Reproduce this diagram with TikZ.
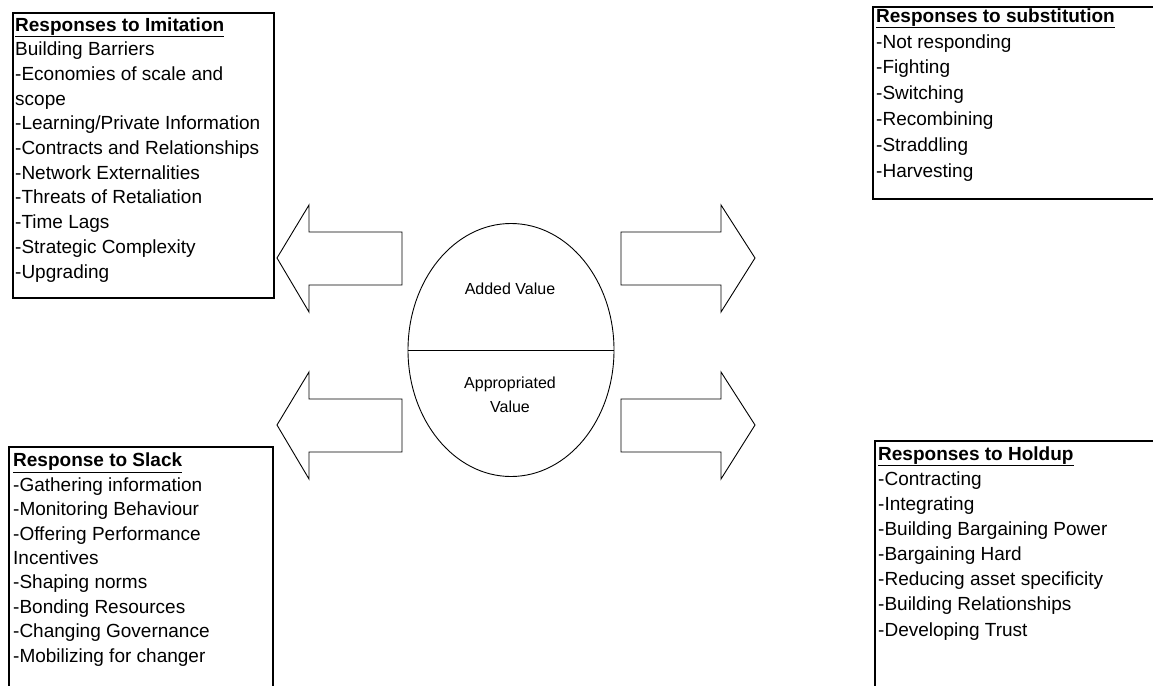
\documentclass[tikz,border=0pt]{standalone}
\usepackage{fontspec}
\setmainfont{Liberation Sans}
\usetikzlibrary{shapes.geometric}
\tikzstyle{listbox}=[draw=black,line width=1.1pt]
\tikzset{listtext/.style={anchor=base west,align=left,inner sep=0pt,
                          font=\fontsize{19}{#1}\selectfont}}
\tikzstyle{blockarrow}=[draw=black,line width=0.9pt,line join=miter]
\tikzstyle{valueshape}=[ellipse,draw=black,line width=0.9pt,inner sep=0pt,
                        minimum width=206pt,minimum height=253pt]
\tikzstyle{valuetext}=[align=center,inner sep=0pt,
                       font=\fontsize{16}{24}\selectfont]
\newcommand{\boxtitle}[1]{\underline{\textbf{#1}}}

\begin{document}
\begin{tikzpicture}[x=1pt,y=-1pt]
	\useasboundingbox (0,0) rectangle (1153,685);
	\clip (0,0) rectangle (1153,685);

	% the four lists (node sits on its last line)
	\draw[listbox] (13,13) rectangle (274,298);
	\draw[listbox] (873,7) rectangle (1170,199);
	\draw[listbox] (9,447) rectangle (273,700);
	\draw[listbox] (875,441) rectangle (1170,700);

	\node[listtext=24.7] (imitation) at (15,278) {\boxtitle{Responses to Imitation}\\
		Building Barriers\\-Economies of scale and\\scope\\
		-Learning/Private Information\\-Contracts and Relationships\\
		-Network Externalities\\-Threats of Retaliation\\-Time Lags\\
		-Strategic Complexity\\-Upgrading};
	\node[listtext=25.9] (substitution) at (876,177.5) {\boxtitle{Responses to substitution}\\
		-Not responding\\-Fighting\\-Switching\\-Recombining\\
		-Straddling\\-Harvesting};
	\node[listtext=24.4] (slack) at (13,662) {\boxtitle{Response to Slack}\\
		-Gathering information\\-Monitoring Behaviour\\
		-Offering Performance\\Incentives\\-Shaping norms\\
		-Bonding Resources\\-Changing Governance\\-Mobilizing for changer};
	\node[listtext=25.1] (holdup) at (878,636) {\boxtitle{Responses to Holdup}\\
		-Contracting\\-Integrating\\-Building Bargaining Power\\
		-Bargaining Hard\\-Reducing asset specificity\\
		-Building Relationships\\-Developing Trust};

	% value in the middle
	\node[valueshape] (value) at (511,350) {};
	\draw[line width=0.9pt] (value.west) -- (value.east);
	\node[valuetext] (added) at (510,289) {Added Value};
	\node[valuetext] (appropriated) at (510,395) {Appropriated\\Value};

	% block arrows
	\coordinate (tipA) at (277,258);
	\coordinate (tipB) at (277,425);
	\coordinate (tipC) at (755,258);
	\coordinate (tipD) at (755,425);
	\draw[blockarrow] (tipA) -- ++(32,-53) -- ++(0,27) -- ++(93,0)
		-- ++(0,53) -- ++(-93,0) -- ++(0,27) -- cycle;
	\draw[blockarrow] (tipB) -- ++(32,-53) -- ++(0,27) -- ++(93,0)
		-- ++(0,53) -- ++(-93,0) -- ++(0,27) -- cycle;
	\draw[blockarrow] (tipC) -- ++(-34,-53) -- ++(0,27) -- ++(-100,0)
		-- ++(0,53) -- ++(100,0) -- ++(0,27) -- cycle;
	\draw[blockarrow] (tipD) -- ++(-34,-53) -- ++(0,27) -- ++(-100,0)
		-- ++(0,53) -- ++(100,0) -- ++(0,27) -- cycle;
\end{tikzpicture}
\end{document}
